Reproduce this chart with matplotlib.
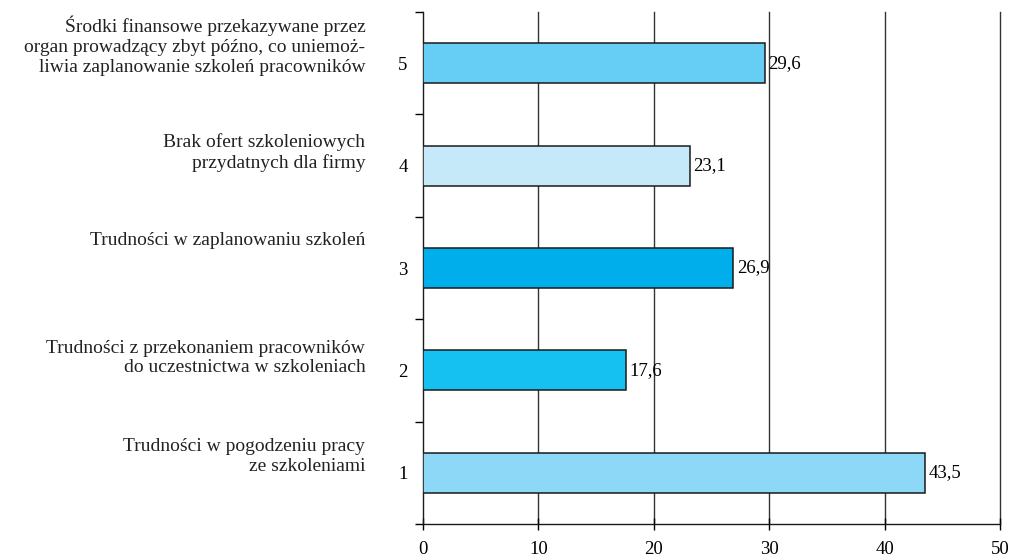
import matplotlib
matplotlib.use("Agg")
import matplotlib.pyplot as plt
from matplotlib.ticker import FixedLocator

plt.rcParams['font.family'] = ['Liberation Serif', 'DejaVu Serif']

positions = [1, 2, 3, 4, 5]
values = [43.5, 17.6, 26.9, 23.1, 29.6]
value_labels = ["43,5", "17,6", "26,9", "23,1", "29,6"]
categories = [
    "Trudności w pogodzeniu pracy\nze szkoleniami",
    "Trudności z przekonaniem pracowników\ndo uczestnictwa w szkoleniach",
    "Trudności w zaplanowaniu szkoleń",
    "Brak ofert szkoleniowych\nprzydatnych dla firmy",
    "Środki finansowe przekazywane przez\norgan prowadzący zbyt późno, co uniemoż-\nliwia zaplanowanie szkoleń pracowników",
]
label_shift = [0.16, 0.12, 0.27, 0.13, 0.17]
colors = ["#8DD8F6", "#14C1F1", "#00AEEC", "#C6E9F9", "#66CEF4"]
fs = 13.5

fig = plt.figure(figsize=(10.1, 5.59), dpi=100)
ax = fig.add_axes([0.4188, 0.0626, 0.5712, 0.9159])

ax.barh(positions, values, height=0.39, color=colors,
        edgecolor="#1a1a1a", linewidth=1.1, zorder=3)

for y, v, s in zip(positions, values, value_labels):
    ax.text(v + 0.3, y, s, va="center", ha="left", fontsize=fs, zorder=4)

for y, txt, dy in zip(positions, categories, label_shift):
    ax.text(-5.0, y + dy, txt, ha="right", va="center", fontsize=14,
            linespacing=1.2, color="#222222")

ax.set_xlim(0, 50)
ax.set_ylim(0.5, 5.5)

ax.set_xticks(range(0, 51, 10))
ax.set_xticklabels([str(t) for t in range(0, 51, 10)], fontsize=fs)
ax.tick_params(axis="x", direction="inout", length=9, width=1.0, pad=8)

ax.set_yticks(positions)
ax.set_yticklabels([str(p) for p in positions], fontsize=fs)
ax.yaxis.set_minor_locator(FixedLocator([0.5, 1.5, 2.5, 3.5, 4.5, 5.5]))
ax.tick_params(axis="y", which="major", length=0, pad=11)
ax.tick_params(axis="y", which="minor", direction="out", length=6, width=1.0)

for x in range(10, 51, 10):
    ax.axvline(x, color="#333333", linewidth=1.0, zorder=1, clip_on=False)

ax.spines["top"].set_visible(False)
ax.spines["right"].set_visible(False)
for side in ("left", "bottom"):
    ax.spines[side].set_linewidth(1.0)
    ax.spines[side].set_color("#1a1a1a")

fig.savefig("out.png", dpi=100)
